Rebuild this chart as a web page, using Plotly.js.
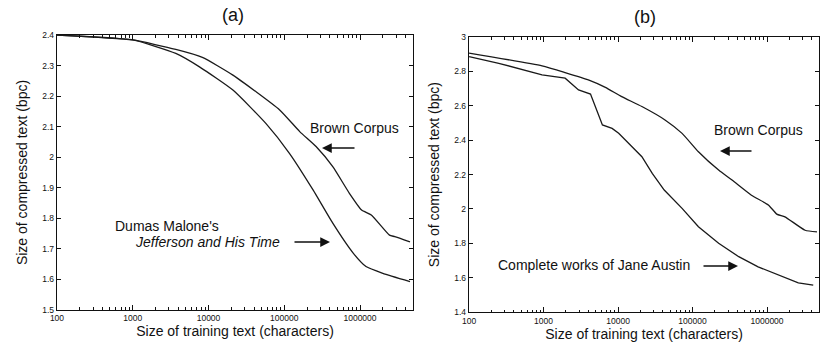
<!DOCTYPE html>
<html><head><meta charset="utf-8">
<script src="https://cdn.plot.ly/plotly-3.0.1.min.js"></script>
<style>body{margin:0;background:#fff}#c{width:820px;height:344px}</style>
</head><body><div id="c"></div>
<script>
const xTickVals = [100, 1000, 10000, 100000, 1000000];
const xTickText = ["100", "1000", "10000", "100000", "1000000"];
const minorMultipliers = [2, 3, 4, 5, 6, 7, 8, 9];

// Panel (a)
const aBrownX = [100, 1000, 3700, 8300, 21000, 87000, 160000, 263000, 437000, 724000, 1050000, 1410000, 2450000, 2880000, 4570000];
const aBrownY = [2.40, 2.384, 2.353, 2.327, 2.269, 2.155, 2.084, 2.035, 1.969, 1.882, 1.827, 1.811, 1.745, 1.740, 1.723];
const aJeffX = [100, 1000, 3700, 7600, 21000, 57500, 117000, 240000, 437000, 813000, 1200000, 2000000, 4570000];
const aJeffY = [2.40, 2.384, 2.340, 2.296, 2.220, 2.110, 2.013, 1.893, 1.784, 1.686, 1.642, 1.620, 1.593];

// Panel (b)
const bBrownX = [100, 955, 1950, 4070, 6760, 11200, 20900, 42700, 72400, 120000, 224000, 339000, 617000, 1050000, 1350000, 1740000, 3240000, 4680000];
const bBrownY = [2.907, 2.833, 2.794, 2.750, 2.708, 2.654, 2.596, 2.518, 2.440, 2.333, 2.226, 2.168, 2.080, 2.022, 1.970, 1.954, 1.876, 1.866];
const bAustX = [100, 251, 955, 1950, 2950, 4270, 6170, 8320, 10200, 13800, 20900, 28800, 41700, 72400, 120000, 224000, 417000, 759000, 1410000, 2630000, 4170000];
const bAustY = [2.887, 2.848, 2.780, 2.761, 2.693, 2.669, 2.489, 2.469, 2.440, 2.382, 2.304, 2.207, 2.110, 2.003, 1.896, 1.800, 1.722, 1.663, 1.614, 1.569, 1.556];

const minorVals = [];
xTickVals.forEach(v => minorMultipliers.forEach(m => minorVals.push(v * m)));

const lineStyle = {color: '#1a1a1a', width: 1.3, shape: 'spline', smoothing: 0.5};
const traces = [
  {x: aBrownX, y: aBrownY, xaxis: 'x', yaxis: 'y', mode: 'lines', line: lineStyle, name: 'Brown Corpus'},
  {x: aJeffX, y: aJeffY, xaxis: 'x', yaxis: 'y', mode: 'lines', line: lineStyle, name: 'Jefferson'},
  {x: bBrownX, y: bBrownY, xaxis: 'x2', yaxis: 'y2', mode: 'lines', line: lineStyle, name: 'Brown Corpus'},
  {x: bAustX, y: bAustY, xaxis: 'x2', yaxis: 'y2', mode: 'lines', line: {color: '#1a1a1a', width: 1.3}, name: 'Austin'}
];

const fam = 'Liberation Sans, Arial, sans-serif';
const ink = '#111';
function xax(domain, anchor) {
  return {
    type: 'log', domain: domain, anchor: anchor, range: [2, 6.7],
    tickmode: 'array', tickvals: xTickVals, ticktext: xTickText, ticks: 'inside', ticklen: 5, tickcolor: ink,
    minor: {tickmode: 'array', tickvals: minorVals, ticks: 'inside', ticklen: 2.5, tickcolor: ink, showgrid: false},
    showline: true, linecolor: ink, linewidth: 1.3, mirror: 'ticks',
    showgrid: false, zeroline: false, tickfont: {size: 8.5, family: fam, color: ink},
    title: {text: 'Size of training text (characters)', font: {size: 14, family: fam, color: ink}, standoff: 1}
  };
}
function yax(domain, anchor, range, dtick) {
  return {
    domain: domain, anchor: anchor, range: range, dtick: dtick, tick0: range[0],
    ticks: 'inside', ticklen: 4, tickcolor: ink, showline: true, linecolor: ink, linewidth: 1.3, mirror: 'ticks',
    showgrid: false, zeroline: false, tickfont: {size: 8.5, family: fam, color: ink},
    title: {text: 'Size of compressed text (bpc)', font: {size: 14, family: fam, color: ink}, standoff: 11}
  };
}

const annFont = {size: 14, family: fam, color: ink};
function label(x, y, text, size) {
  return {xref: 'paper', yref: 'paper', x: x / 820, y: 1 - y / 344, text: text, showarrow: false,
          xanchor: 'center', yanchor: 'middle', font: size ? {size: size, family: fam, color: ink} : annFont};
}
function arrow(x, y, ax) {
  return {xref: 'paper', yref: 'paper', x: x / 820, y: 1 - y / 344, text: '', showarrow: true,
          arrowhead: 2, arrowsize: 1.5, arrowwidth: 1.3, arrowcolor: ink, ax: ax, ay: 0};
}
const layout = {
  width: 820, height: 344, margin: {l: 0, r: 0, t: 0, b: 0},
  paper_bgcolor: '#fff', plot_bgcolor: '#fff', showlegend: false, font: {family: fam, color: ink},
  xaxis: xax([0.0695, 0.5037], 'y'),
  yaxis: yax([0.099, 0.898], 'x', [1.5, 2.4], 0.1),
  xaxis2: xax([0.572, 0.999], 'y2'),
  yaxis2: yax([0.093, 0.892], 'x2', [1.4, 3.0], 0.2),
  annotations: [
    label(233, 15, '(a)', 18),
    label(645, 17, '(b)', 18),
    label(354, 128, 'Brown Corpus'),
    arrow(322, 148, 34),
    label(167, 226, "Dumas Malone's"),
    label(207, 242, '<i>Jefferson and His Time</i>'),
    arrow(330, 242, -37),
    label(758, 130, 'Brown Corpus'),
    arrow(720, 151, 33),
    label(594, 265, 'Complete works of Jane Austin'),
    arrow(738, 266, -36)
  ]
};
Plotly.newPlot('c', traces, layout, {staticPlot: true});
</script></body></html>
